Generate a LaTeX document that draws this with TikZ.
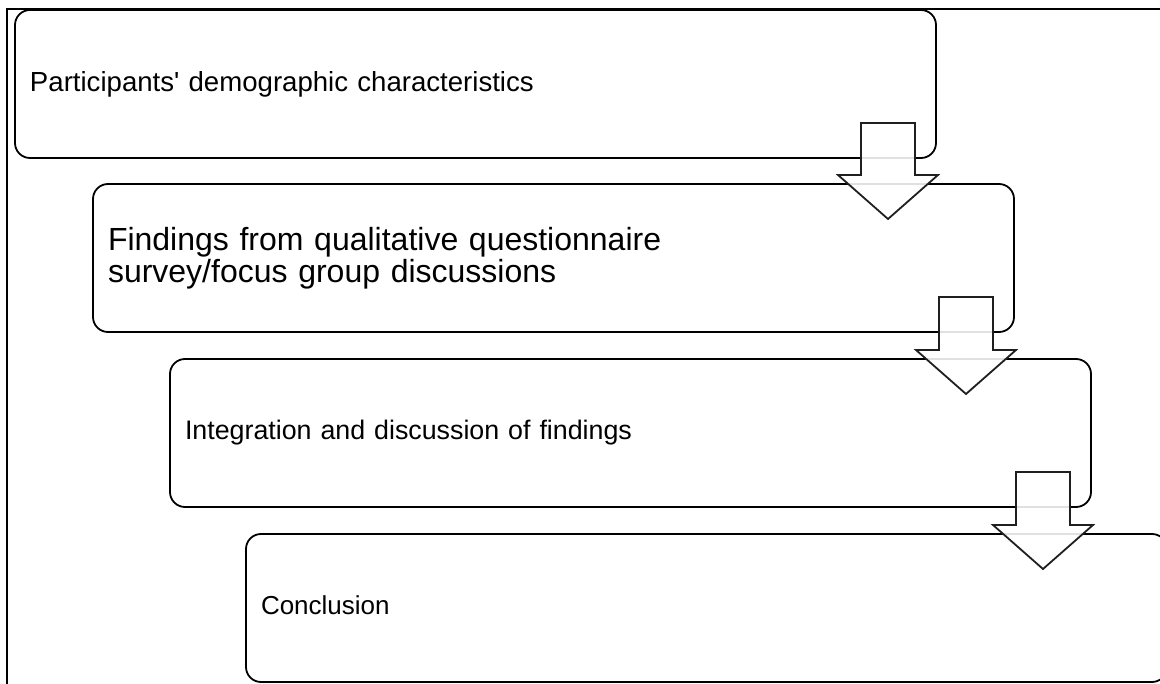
\documentclass[tikz,border=0pt]{standalone}
\usepackage{fontspec}
\setmainfont{Liberation Sans}
\usetikzlibrary{calc}

\tikzset{
  stagebox/.style={draw=black, line width=1.8pt, rounded corners=15pt,
    anchor=north west, minimum width=921pt, minimum height=148pt,
    text width=891pt, inner xsep=15pt, inner ysep=0pt, outer sep=0pt,
    align=left},
  flowarrow/.style={draw=black!88, line width=1.8pt, fill=white,
    fill opacity=0.88, line join=miter},
  frameline/.style={draw=black, line width=2.2pt}
}

% block arrow from the lower right of one stage into the next stage
\newcommand{\stagearrow}[2]{%
  \draw[flowarrow] let \p1=(#1.south east), \p2=(#2.north) in
    (\x1-75pt,\y1+35pt) -- (\x1-21pt,\y1+35pt) -- (\x1-21pt,\y2+9pt)
    -- (\x1+2pt,\y2+9pt) -- (\x1-48pt,\y2-35pt) -- (\x1-98pt,\y2+9pt)
    -- (\x1-75pt,\y2+9pt) -- cycle;}

\begin{document}
\begin{tikzpicture}[x=1pt, y=-1pt]
  \useasboundingbox (0,0) rectangle (1160,684);

  % outer frame
  \draw[frameline] (7,684) -- (7,9) -- (1160,9);

  % stages
  \node[stagebox, font=\fontsize{27.6}{31}\selectfont] (b1) at (15,10)
    {Participants\textquotesingle{} demographic characteristics};
  \node[stagebox, font=\fontsize{32}{31.5}\selectfont] (b2) at (93,184)
    {Findings from qualitative questionnaire\\survey/focus group discussions};
  \node[stagebox, font=\fontsize{26.8}{30}\selectfont] (b3) at (170,359)
    {Integration and discussion of findings};
  \node[stagebox, font=\fontsize{26}{29}\selectfont] (b4) at (246,534)
    {Conclusion\vphantom{g}};

  % connecting arrows
  \stagearrow{b1}{b2}
  \stagearrow{b2}{b3}
  \stagearrow{b3}{b4}
\end{tikzpicture}
\end{document}
